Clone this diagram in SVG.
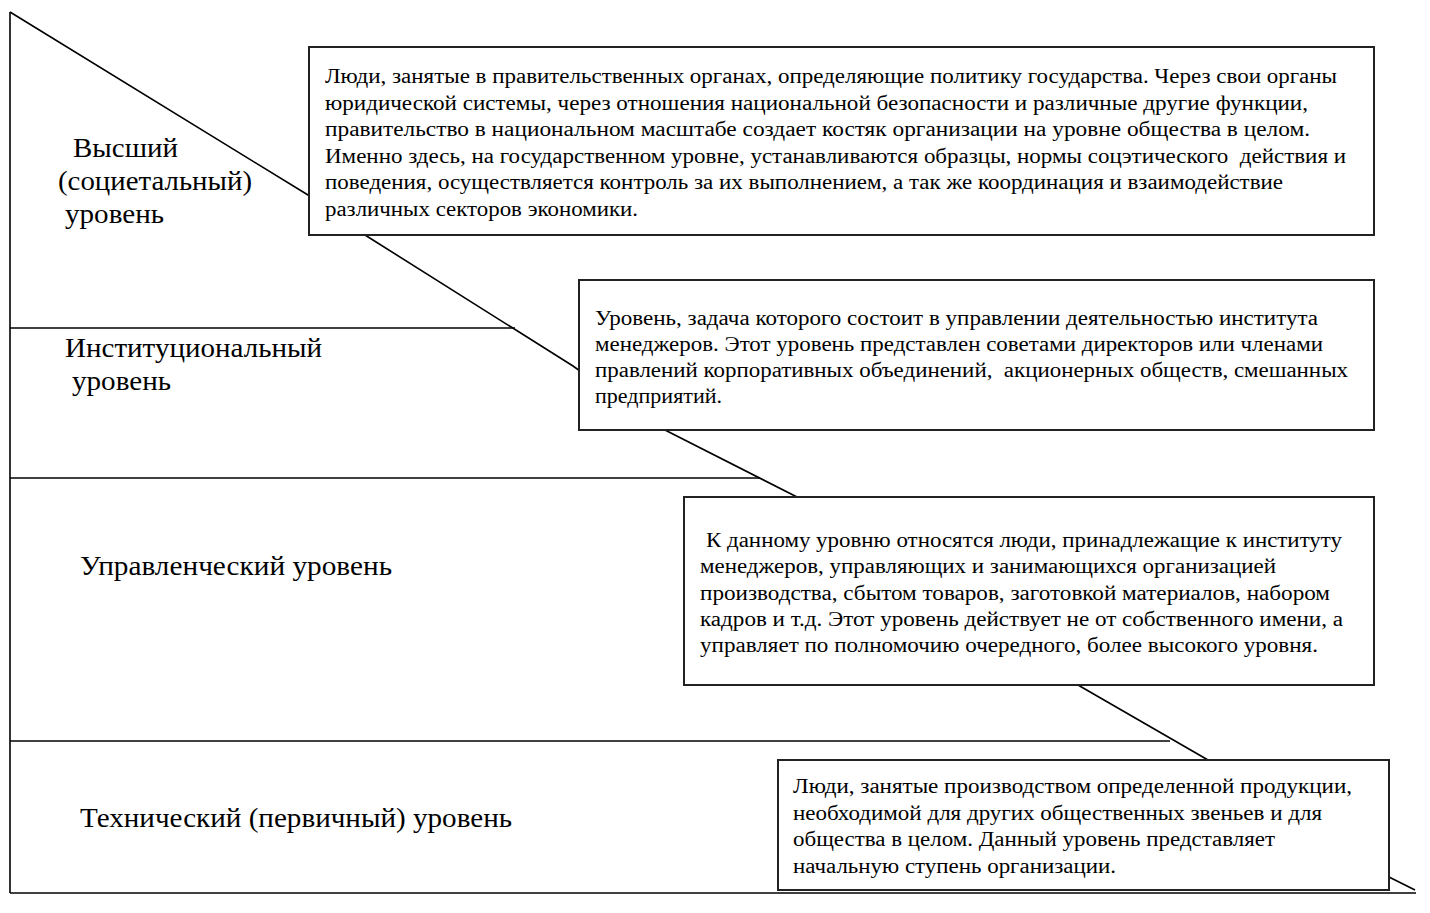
<svg xmlns="http://www.w3.org/2000/svg" width="1430" height="913" viewBox="0 0 1430 913">
<style>
.ln{stroke:#000;stroke-width:1.6;fill:none}
.box{fill:#fff;stroke:#222;stroke-width:2}
.bt{font-family:"Liberation Serif","Times New Roman",serif;font-size:20px;fill:#000}
.lbl{font-family:"Liberation Serif","Times New Roman",serif;font-size:27px;fill:#000}
</style>
<rect x="0" y="0" width="1430" height="913" fill="#fff"/>
<g id="connectors">
<line class="ln" x1="10" y1="12" x2="10" y2="893"/>
<line class="ln" x1="10" y1="893" x2="1416" y2="893"/>
<line class="ln" x1="10" y1="328" x2="515" y2="328"/>
<line class="ln" x1="10" y1="478" x2="760" y2="478"/>
<line class="ln" x1="10" y1="741" x2="1170" y2="741"/>
<polyline class="ln" points="10,12 308,195 365,235 573,366 650,421 665,430 797,497 1078,685 1208,760 1389,877 1415,890"/>
</g>
<g id="label-vysshiy">
<text class="lbl" x="73" y="157" textLength="105" lengthAdjust="spacingAndGlyphs">Высший</text>
<text class="lbl" x="58" y="190" textLength="194" lengthAdjust="spacingAndGlyphs">(социетальный)</text>
<text class="lbl" x="65" y="223" textLength="99" lengthAdjust="spacingAndGlyphs">уровень</text>
</g>
<g id="label-institutional">
<text class="lbl" x="65" y="357" textLength="257" lengthAdjust="spacingAndGlyphs">Институциональный</text>
<text class="lbl" x="72" y="390" textLength="99" lengthAdjust="spacingAndGlyphs">уровень</text>
</g>
<g id="label-managerial">
<text class="lbl" x="80" y="575" textLength="312" lengthAdjust="spacingAndGlyphs">Управленческий уровень</text>
</g>
<g id="label-technical">
<text class="lbl" x="80" y="827" textLength="432" lengthAdjust="spacingAndGlyphs">Технический (первичный) уровень</text>
</g>
<g id="box1">
<rect class="box" x="309" y="47" width="1065" height="188"/>
<text class="bt" x="325" y="83" textLength="1012" lengthAdjust="spacingAndGlyphs">Люди, занятые в правительственных органах, определяющие политику государства. Через свои органы</text>
<text class="bt" x="325" y="110" textLength="983" lengthAdjust="spacingAndGlyphs">юридической системы, через отношения национальной безопасности и различные другие функции,</text>
<text class="bt" x="325" y="136" textLength="985" lengthAdjust="spacingAndGlyphs">правительство в национальном масштабе создает костяк организации на уровне общества в целом.</text>
<text class="bt" x="325" y="163" textLength="1021" lengthAdjust="spacingAndGlyphs" xml:space="preserve">Именно здесь, на государственном уровне, устанавливаются образцы, нормы соцэтического  действия и</text>
<text class="bt" x="325" y="189" textLength="958" lengthAdjust="spacingAndGlyphs">поведения, осуществляется контроль за их выполнением, а так же координация и взаимодействие</text>
<text class="bt" x="325" y="216" textLength="313" lengthAdjust="spacingAndGlyphs">различных секторов экономики.</text>
</g>
<g id="box2">
<rect class="box" x="579" y="280" width="795" height="150"/>
<text class="bt" x="595" y="325" textLength="723" lengthAdjust="spacingAndGlyphs">Уровень, задача которого состоит в управлении деятельностью института</text>
<text class="bt" x="595" y="351" textLength="728" lengthAdjust="spacingAndGlyphs">менеджеров. Этот уровень представлен советами директоров или членами</text>
<text class="bt" x="595" y="377" textLength="753" lengthAdjust="spacingAndGlyphs" xml:space="preserve">правлений корпоративных объединений,  акционерных обществ, смешанных</text>
<text class="bt" x="595" y="403" textLength="127" lengthAdjust="spacingAndGlyphs">предприятий.</text>
</g>
<g id="box3">
<rect class="box" x="684" y="497" width="690" height="188"/>
<text class="bt" x="706" y="547" textLength="636" lengthAdjust="spacingAndGlyphs">К данному уровню относятся люди, принадлежащие к институту</text>
<text class="bt" x="700" y="573" textLength="576" lengthAdjust="spacingAndGlyphs">менеджеров, управляющих и занимающихся организацией</text>
<text class="bt" x="700" y="600" textLength="630" lengthAdjust="spacingAndGlyphs">производства, сбытом товаров, заготовкой материалов, набором</text>
<text class="bt" x="700" y="626" textLength="643" lengthAdjust="spacingAndGlyphs">кадров и т.д. Этот уровень действует не от собственного имени, а</text>
<text class="bt" x="700" y="652" textLength="618" lengthAdjust="spacingAndGlyphs">управляет по полномочию очередного, более высокого уровня.</text>
</g>
<g id="box4">
<rect class="box" x="778" y="760" width="611" height="130"/>
<text class="bt" x="793" y="793" textLength="559" lengthAdjust="spacingAndGlyphs">Люди, занятые производством определенной продукции,</text>
<text class="bt" x="793" y="820" textLength="529" lengthAdjust="spacingAndGlyphs">необходимой для других общественных звеньев и для</text>
<text class="bt" x="793" y="846" textLength="482" lengthAdjust="spacingAndGlyphs">общества в целом. Данный уровень представляет</text>
<text class="bt" x="793" y="873" textLength="323" lengthAdjust="spacingAndGlyphs">начальную ступень организации.</text>
</g>
</svg>
